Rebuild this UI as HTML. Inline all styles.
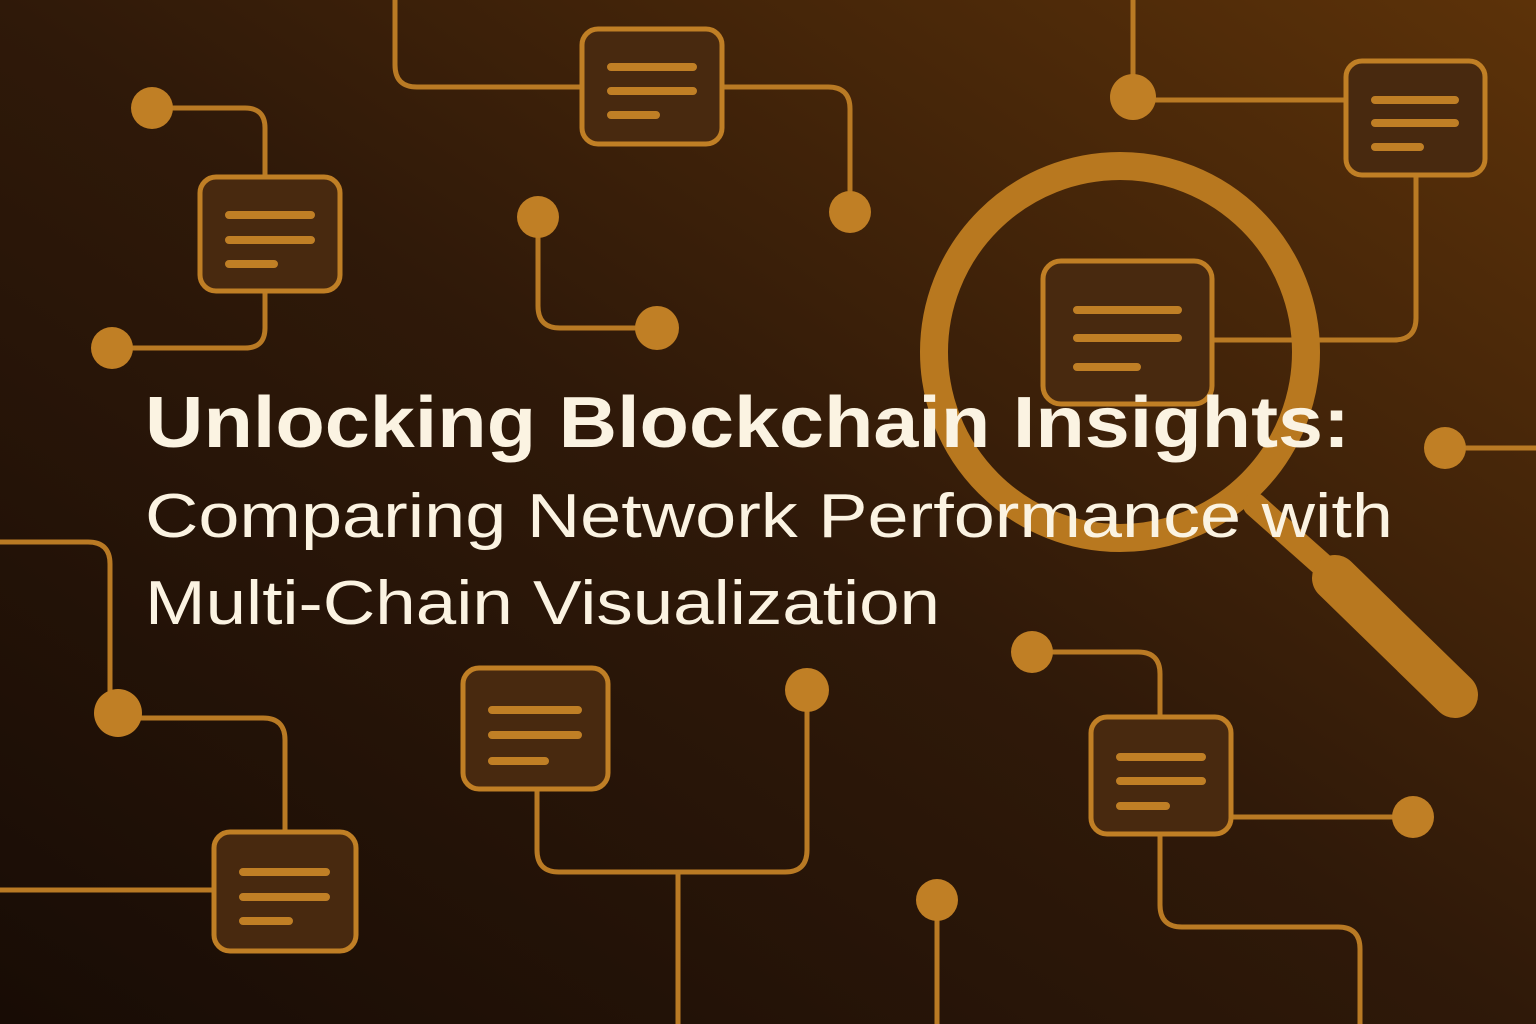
<!DOCTYPE html>
<html><head><meta charset="utf-8"><style>
html,body{margin:0;padding:0;width:1536px;height:1024px;overflow:hidden;background:#2a1608}
svg{display:block}
</style></head><body>
<svg width="1536" height="1024" viewBox="0 0 1536 1024" xmlns="http://www.w3.org/2000/svg">
<defs>
<linearGradient id="bg" x1="0" y1="1" x2="1" y2="0">
<stop offset="0" stop-color="#180c05"/>
<stop offset="0.5" stop-color="#2f1909"/>
<stop offset="1" stop-color="#5c3209"/>
</linearGradient>
</defs>
<rect width="1536" height="1024" fill="url(#bg)"/>
<g fill="none" stroke="#b97a24" stroke-width="5" stroke-linecap="round">
<path d="M152 108 H245 Q265 108 265 128 V175"/>
<path d="M265 293 V328 Q265 348 245 348 H112"/>
<path d="M395 0 V65 Q395 87 417 87 H581"/>
<path d="M723 87 H828 Q850 87 850 109 V212"/>
<path d="M538 217 V306 Q538 328 560 328 H657"/>
<path d="M1133 0 V97"/>
<path d="M1133 100 H1345"/>
<path d="M1416 175 V318 Q1416 340 1394 340 H1213"/>
<path d="M1445 448 H1536"/>
<path d="M0 542 H88 Q110 542 110 564 V713"/>
<path d="M118 718 H263 Q285 718 285 740 V832"/>
<path d="M0 890 H213"/>
<path d="M537 790 V850 Q537 872 559 872 H785 Q807 872 807 850 V690"/>
<path d="M678 872 V1024"/>
<path d="M1032 652 H1138 Q1160 652 1160 674 V716"/>
<path d="M1232 817 H1413"/>
<path d="M1160 835 V905 Q1160 927 1182 927 H1338 Q1360 927 1360 949 V1024"/>
<path d="M937 900 V1024"/>
</g>
<g fill="#c07f25">
<circle cx="152" cy="108" r="21"/>
<circle cx="112" cy="348" r="21"/>
<circle cx="850" cy="212" r="21"/>
<circle cx="538" cy="217" r="21"/>
<circle cx="657" cy="328" r="22"/>
<circle cx="1133" cy="97" r="23"/>
<circle cx="1445" cy="448" r="21"/>
<circle cx="118" cy="713" r="24"/>
<circle cx="807" cy="690" r="22"/>
<circle cx="1032" cy="652" r="21"/>
<circle cx="1413" cy="817" r="21"/>
<circle cx="937" cy="900" r="21"/>
</g>
<g fill="#48290f" stroke="#c07f25" stroke-width="5">
<rect x="200" y="177" width="140" height="114" rx="16"/>
<rect x="582" y="29" width="140" height="115" rx="16"/>
<rect x="1346" y="61" width="139" height="114" rx="16"/>
<rect x="1043" y="261" width="169" height="143" rx="18"/>
<rect x="463" y="668" width="145" height="121" rx="16"/>
<rect x="1091" y="717" width="140" height="117" rx="16"/>
<rect x="214" y="832" width="142" height="119" rx="16"/>
</g>
<g stroke="#c07f25" stroke-width="8" stroke-linecap="round">
<path d="M229 215 H311 M229 240 H311 M229 264 H274"/>
<path d="M611 67 H693 M611 91 H693 M611 115 H656"/>
<path d="M1375 100 H1455 M1375 123 H1455 M1375 147 H1420"/>
<path d="M1077 310 H1178 M1077 338 H1178 M1077 367 H1137"/>
<path d="M492 710 H578 M492 735 H578 M492 761 H545"/>
<path d="M1120 757 H1202 M1120 781 H1202 M1120 806 H1166"/>
<path d="M243 872 H326 M243 897 H326 M243 921 H289"/>
</g>
<g fill="none" stroke="#b8781f" stroke-linecap="round">
<circle cx="1120" cy="352" r="186" stroke-width="28"/>
<path d="M1255 505 L1345 585" stroke-width="24"/>
<path d="M1335 578 L1455 695" stroke-width="46"/>
</g>
<g fill="#fbf3e2" font-family="Liberation Sans, sans-serif">
<text x="145" y="447" font-size="72" font-weight="bold" textLength="1205" lengthAdjust="spacingAndGlyphs">Unlocking Blockchain Insights:</text>
<text x="145" y="537" font-size="62" textLength="1248" lengthAdjust="spacingAndGlyphs">Comparing Network Performance with</text>
<text x="145" y="624" font-size="62" textLength="795" lengthAdjust="spacingAndGlyphs">Multi-Chain Visualization</text>
</g>
</svg>
</body></html>
